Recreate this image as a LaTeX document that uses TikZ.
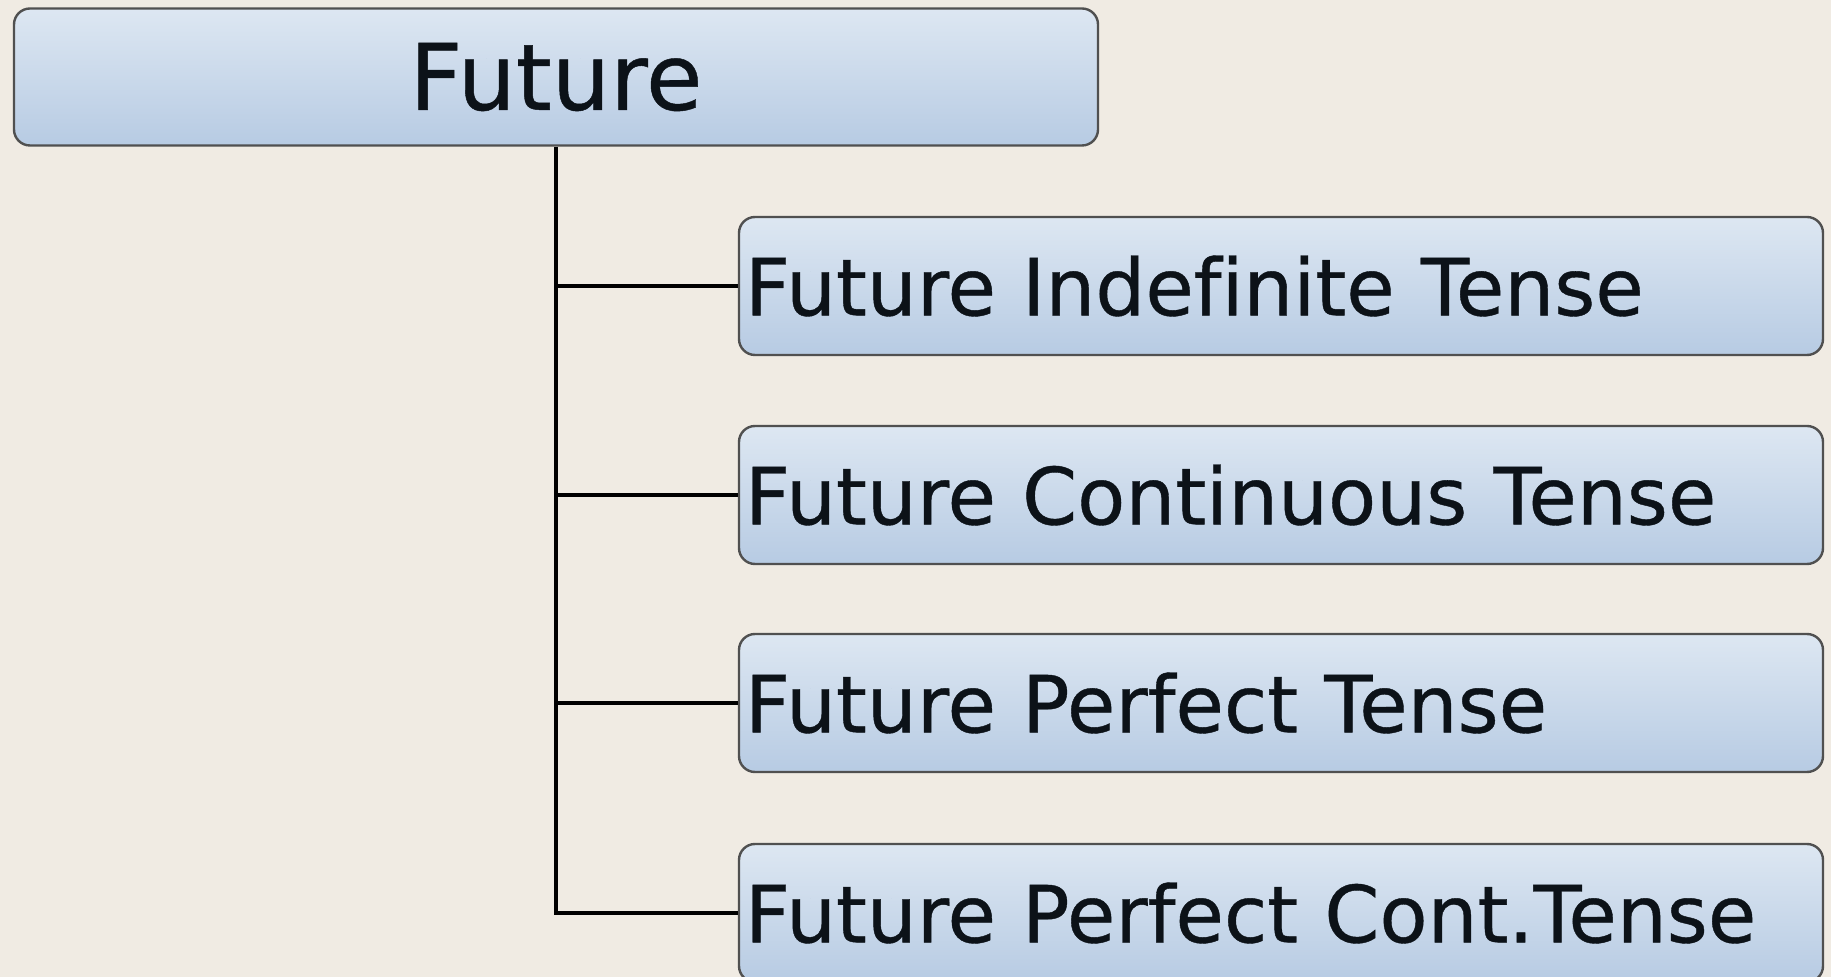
\documentclass[tikz,border=0pt]{standalone}
\usepackage{fontspec}
\setmainfont{DejaVu Sans}[Ligatures=NoCommon, FakeBold=0.5]
\definecolor{bgcol}{HTML}{F0EBE3}
\definecolor{boxtop}{HTML}{DDE7F2}
\definecolor{boxbot}{HTML}{B7CBE3}
\definecolor{boxline}{HTML}{505050}
\definecolor{txt}{HTML}{0C1218}
\tikzset{
  boxbase/.style={rectangle, rounded corners=8pt, draw=boxline, line width=1.2pt,
    top color=boxtop, bottom color=boxbot, text=txt, inner xsep=3pt, inner ysep=0pt},
  rootbox/.style={boxbase, minimum width=542pt, minimum height=68.5pt,
    font=\fontsize{46}{50}\selectfont},
  childbox/.style={boxbase, minimum width=542pt, minimum height=69pt, text width=536pt, align=left,
    font=\fontsize{39.4}{44}\selectfont},
  conn/.style={draw=black, line width=2.4pt}
}
\begin{document}
\begin{tikzpicture}[x=0.5pt, y=-0.5pt]
\fill[bgcol] (0,0) rectangle (1831,977);
\useasboundingbox (0,0) rectangle (1831,977);
\clip (0,0) rectangle (1831,977);
\node[rootbox] (root) at (556,77) {Future};
\node[childbox] (c1) at (1281,286) {Future Indefinite Tense};
\node[childbox] (c2) at (1281,495) {Future Continuous Tense};
\node[childbox] (c3) at (1281,703) {Future Perfect Tense};
\node[childbox] (c4) at (1281,913) {Future Perfect Cont.Tense};
\draw[conn] (root.south) |- (c4.west);
\draw[conn] (root.south |- c1.west) -- (c1.west);
\draw[conn] (root.south |- c2.west) -- (c2.west);
\draw[conn] (root.south |- c3.west) -- (c3.west);
\end{tikzpicture}
\end{document}
